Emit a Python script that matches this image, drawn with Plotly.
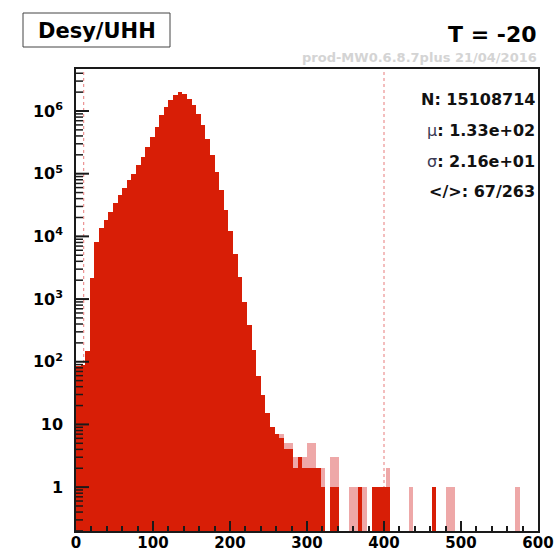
import numpy as np
import plotly.graph_objects as go

# ---- histogram binning: 100 bins of width 6 between 0 and 600 ----
x_min, x_max, n_bins = 0, 600, 100
bin_edges = np.linspace(x_min, x_max, n_bins + 1)
bin_centers = 0.5 * (bin_edges[:-1] + bin_edges[1:])
bin_width = (x_max - x_min) / n_bins

# entries per bin, current run (solid red)
counts_run = [
    85, 88, 150, 2140, 8130, 13500, 18200, 24500, 33900, 45700,
    58900, 79400, 100000, 138000, 186000, 269000, 380000, 562000, 851000, 1150000,
    1500000, 1800000, 2000000, 1850000, 1580000, 1250000, 890000, 600000, 363000, 200000,
    107000, 55000, 26300, 12000, 5250, 2240, 890, 380, 155, 60,
    30, 15, 9, 7, 6, 4, 4, 2, 3, 2,
    2, 2, 2, 1, 0, 1, 1, 0, 0, 0,
    0, 1, 0, 0, 1, 1, 1, 1, 0, 0,
    0, 0, 0, 0, 0, 0, 0, 1, 0, 0,
    0, 0, 0, 0, 0, 0, 0, 0, 0, 0,
    0, 0, 0, 0, 0, 0, 0, 0, 0, 0,
]

# entries per bin, comparison run (light red, drawn underneath)
counts_ref = [
    85, 88, 150, 2140, 8130, 13500, 18200, 24500, 33900, 45700,
    58900, 79400, 100000, 138000, 186000, 269000, 380000, 562000, 851000, 1150000,
    1500000, 1800000, 2000000, 1850000, 1580000, 1250000, 890000, 600000, 363000, 200000,
    107000, 55000, 26300, 12000, 5250, 2240, 890, 380, 155, 60,
    30, 15, 9, 7, 7, 5, 5, 3, 3, 3,
    5, 5, 2, 2, 0, 3, 3, 0, 0, 1,
    1, 1, 1, 0, 1, 1, 1, 2, 0, 0,
    0, 0, 1, 0, 0, 0, 0, 1, 0, 0,
    1, 1, 0, 0, 0, 0, 0, 0, 0, 0,
    0, 0, 0, 0, 0, 1, 0, 0, 0, 0,
]

# selection window
cut_low, cut_high = 10, 400

# statistics box
stat_labels = ["N", "μ", "σ", "&lt;/&gt;"]
stat_values = ["15108714", "1.33e+02", "2.16e+01", "67/263"]

title_left = "Desy/UHH"
title_right = "T = -20"
production_tag = "prod-MW0.6.8.7plus 21/04/2016"

x_tick_vals = [0, 100, 200, 300, 400, 500, 600]
y_tick_vals = [1, 10, 100, 1e3, 1e4, 1e5, 1e6]
y_tick_text = ["1", "10", "10<sup>2</sup>", "10<sup>3</sup>", "10<sup>4</sup>",
               "10<sup>5</sup>", "10<sup>6</sup>"]
y_range_log = [-0.70, 6.67]

RED = "#d81e06"
PINK = "rgb(238,168,168)"
FONT = "DejaVu Sans"
AXIS_COLOR = "#1a1a1a"


def nonzero(values):
    return [v if v > 0 else None for v in values]


fig = go.Figure()
fig.add_trace(go.Bar(
    x=bin_centers, y=nonzero(counts_ref), width=bin_width,
    marker=dict(color=PINK, line=dict(width=0)),
    showlegend=False, hoverinfo="skip",
))
fig.add_trace(go.Bar(
    x=bin_centers, y=nonzero(counts_run), width=bin_width,
    marker=dict(color=RED, line=dict(width=0)),
    showlegend=False, hoverinfo="skip",
))

# dotted cut lines
for xc in (cut_low, cut_high):
    fig.add_shape(type="line", xref="x", yref="paper", x0=xc, x1=xc, y0=0, y1=1,
                  line=dict(color="rgba(228,110,110,0.9)", width=1, dash="dot"),
                  layer="below")

W, H = 558, 553
ml, mr, mt, mb = 76, 20, 69, 22
pw, ph = W - ml - mr, H - mt - mb


def px_x(px):
    return (px - ml) / pw


def px_y(py):
    return (H - mb - py) / ph


# inward tick marks on the left (log) axis: decades long, 2..9 short
y_lo, y_hi = 10 ** y_range_log[0], 10 ** y_range_log[1]
for e in range(-1, 7):
    for m in range(1, 10):
        v = m * 10.0 ** e
        if not (y_lo <= v <= y_hi):
            continue
        major = (m == 1)
        fig.add_shape(type="line", xref="paper", yref="y",
                      x0=0, x1=(13 if major else 7) / pw, y0=v, y1=v,
                      line=dict(color=AXIS_COLOR, width=2 if major else 1.5),
                      layer="above")

# label box in the top-left corner
fig.add_shape(type="rect", xref="paper", yref="paper",
              x0=px_x(23), x1=px_x(170), y0=px_y(47), y1=px_y(13),
              line=dict(color="#444", width=1), fillcolor="white", layer="above")
fig.add_annotation(xref="paper", yref="paper", x=px_x(96.5), y=px_y(31),
                   text=title_left, showarrow=False, xanchor="center", yanchor="middle",
                   font=dict(family=FONT, size=21, color="black", weight="bold"))
fig.add_annotation(xref="paper", yref="paper", x=px_x(539), y=px_y(35),
                   text=title_right, showarrow=False, xanchor="right", yanchor="middle",
                   font=dict(family=FONT, size=22, color="black", weight="bold"))
fig.add_annotation(xref="paper", yref="paper", x=px_x(539), y=px_y(57),
                   text=production_tag, showarrow=False, xanchor="right", yanchor="middle",
                   font=dict(family=FONT, size=13, color="#d4d4d4", weight="bold"))

stat_rows_y = [99, 130, 161, 191]
for label, value, py in zip(stat_labels, stat_values, stat_rows_y):
    if label in ("μ", "σ"):
        text = f"<span style='color:#3a3a55'>{label}</span><b>: {value}</b>"
    else:
        text = f"<b>{label}: {value}</b>"
    fig.add_annotation(xref="paper", yref="paper", x=px_x(537), y=px_y(py),
                       text=text, showarrow=False, xanchor="right", yanchor="middle",
                       font=dict(family=FONT, size=16, color="#111"))

fig.update_layout(
    width=W, height=H, autosize=False,
    margin=dict(l=ml, r=mr, t=mt, b=mb, pad=0),
    paper_bgcolor="white", plot_bgcolor="white",
    barmode="overlay", bargap=0, bargroupgap=0,
    showlegend=False,
    xaxis=dict(
        range=[x_min, x_max], showgrid=False, zeroline=False, automargin=False,
        showline=True, mirror=True, linecolor=AXIS_COLOR, linewidth=1.5,
        tickmode="array", tickvals=x_tick_vals, layer="above traces",
        ticks="inside", ticklen=10, tickwidth=1.5, tickcolor=AXIS_COLOR,
        minor=dict(dtick=20, ticks="inside", ticklen=5, tickwidth=1.5,
                   tickcolor=AXIS_COLOR, showgrid=False),
        tickfont=dict(family=FONT, size=15, color="black", weight="bold"),
        ticklabelstandoff=-3,
    ),
    yaxis=dict(
        type="log", range=y_range_log, showgrid=False, zeroline=False, automargin=False,
        showline=True, mirror=True, linecolor=AXIS_COLOR, linewidth=1.5,
        tickmode="array", tickvals=y_tick_vals, ticktext=y_tick_text, layer="above traces",
        ticks="", tickfont=dict(family=FONT, size=16, color="black", weight="bold"),
        ticklabelstandoff=8,
    ),
)

fig.write_html("out.html", config={"displayModeBar": False})
